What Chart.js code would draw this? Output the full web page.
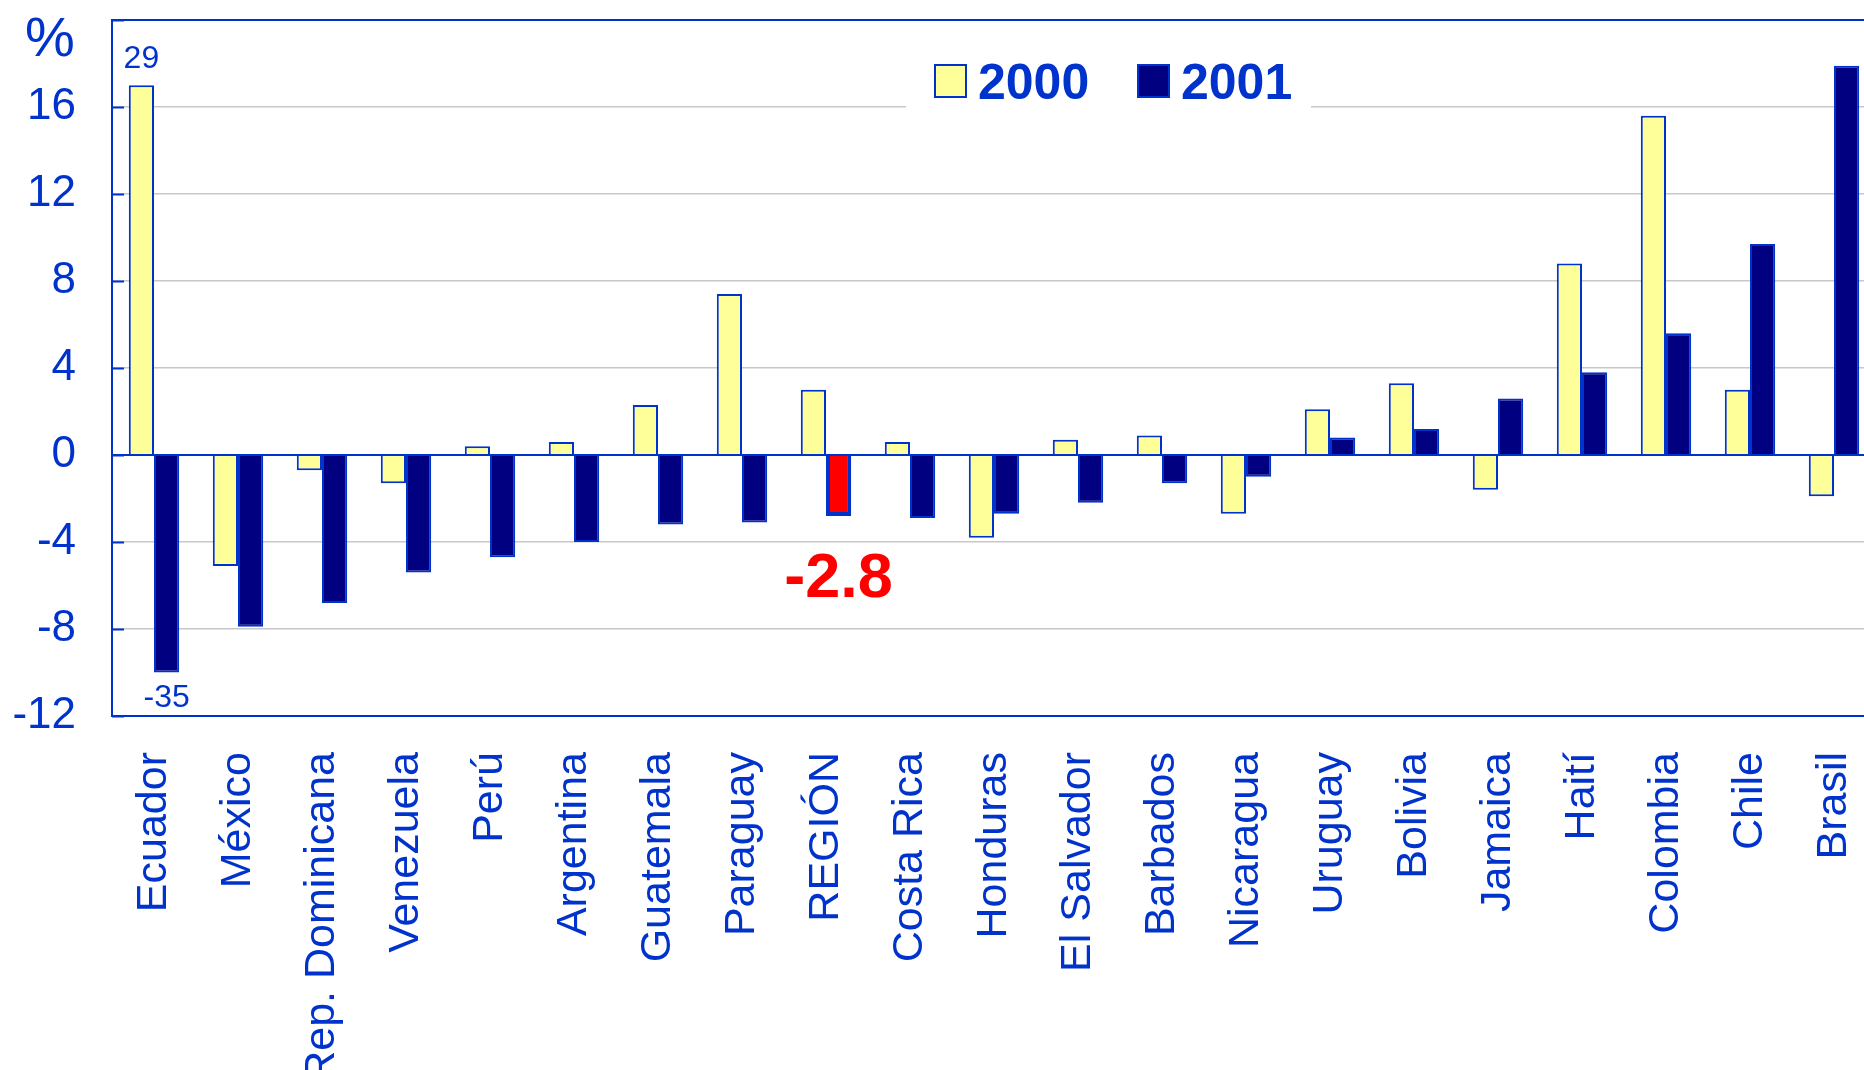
<!DOCTYPE html>
<html>
<head>
<meta charset="utf-8">
<script src="https://cdn.jsdelivr.net/npm/chart.js@4.4.1/dist/chart.umd.min.js"></script>
<style>
  html, body { margin: 0; padding: 0; background: #fff; overflow: hidden; }
  #grafico { display: block; }
</style>
</head>
<body>
<canvas id="grafico" width="1876" height="1070"></canvas>
<script>
// paises ordenados como en la lamina
var paises = ['Ecuador', 'México', 'Rep. Dominicana', 'Venezuela', 'Perú', 'Argentina', 'Guatemala',
  'Paraguay', 'REGIÓN', 'Costa Rica', 'Honduras', 'El Salvador', 'Barbados', 'Nicaragua',
  'Uruguay', 'Bolivia', 'Jamaica', 'Haití', 'Colombia', 'Chile', 'Brasil'];
var datos2000 = [29, -5.1, -0.7, -1.3, 0.4, 0.6, 2.3, 7.4, 3.0, 0.6, -3.8, 0.7, 0.9, -2.7, 2.1, 3.3, -1.6, 8.8, 15.6, 3.0, -1.9];
var datos2001 = [-35, -7.9, -6.8, -5.4, -4.7, -4.0, -3.2, -3.1, -2.8, -2.9, -2.7, -2.2, -1.3, -1.0, 0.8, 1.2, 2.6, 3.8, 5.6, 9.7, 17.9];
var series = ['2000', '2001'];
var yMin = -12, yMax = 20, yPaso = 2;
// valores fuera del eje se dibujan cortados hasta aqui
var corteArriba = 17, corteAbajo = -10;

var azul = '#0033CC';
var marino = '#000080';
var amarillo = '#FFFF99';
var fuente = "'Liberation Sans', Arial, sans-serif";

function cortar(v) {
  if (v > yMax) return corteArriba;
  if (v < yMin) return corteAbajo;
  return v;
}

var idxRegion = paises.indexOf('REGIÓN');
var fondo2001 = paises.map(function (p, i) { return i === idxRegion ? '#FF0000' : marino; });
var borde2001 = paises.map(function (p, i) { return i === idxRegion ? 4 : 2; });

/* dibuja %, marcas hacia adentro, leyenda y rotulos */
var extras = {
  id: 'extras',
  afterDatasetsDraw: function (chart) {
    var ctx = chart.ctx;
    var area = chart.chartArea;
    var y = chart.scales.y;
    ctx.save();

    // marcas del eje y hacia dentro
    ctx.strokeStyle = azul;
    ctx.lineWidth = 2;
    y.ticks.forEach(function (t) {
      var py = Math.round(y.getPixelForValue(t.value)) + 0.5;
      ctx.beginPath();
      ctx.moveTo(area.left, py);
      ctx.lineTo(area.left + 12, py);
      ctx.stroke();
    });

    // %
    ctx.fillStyle = azul;
    ctx.font = '56px ' + fuente;
    ctx.textAlign = 'left';
    ctx.textBaseline = 'alphabetic';
    ctx.fillText('%', 25, 56);

    // leyenda con fondo blanco
    ctx.fillStyle = '#fff';
    ctx.fillRect(906, 40, 405, 72);
    var colores = [amarillo, marino];
    var xs = [935, 1138];
    for (var i = 0; i < series.length; i++) {
      ctx.fillStyle = colores[i];
      ctx.fillRect(xs[i], 65, 31, 32);
      ctx.strokeStyle = azul;
      ctx.lineWidth = 2;
      ctx.strokeRect(xs[i], 65, 31, 32);
      ctx.fillStyle = azul;
      ctx.font = 'bold 50px ' + fuente;
      ctx.fillText(series[i], xs[i] + 43, 99);
    }

    // valores de barras cortadas
    var m0 = chart.getDatasetMeta(0).data;
    var m1 = chart.getDatasetMeta(1).data;
    ctx.fillStyle = azul;
    ctx.font = '32px ' + fuente;
    ctx.textAlign = 'center';
    function rotular(lista, meta) {
      lista.forEach(function (v, i) {
        if (v !== cortar(v)) {
          if (v > 0) {
            ctx.textBaseline = 'alphabetic';
            ctx.fillText(String(v), meta[i].x, meta[i].y - 17);
          } else {
            ctx.textBaseline = 'top';
            ctx.fillText(String(v), meta[i].x, meta[i].y + 10);
          }
        }
      });
    }
    rotular(datos2000, m0);
    rotular(datos2001, m1);

    // valor de la region
    var r = m1[idxRegion];
    ctx.fillStyle = '#FF0000';
    ctx.font = 'bold 63px ' + fuente;
    ctx.textBaseline = 'top';
    ctx.fillText(datos2001[idxRegion].toFixed(1), r.x, r.y + 32);
    ctx.restore();
  }
};

var ctxg = document.getElementById('grafico');
var grafico = new Chart(ctxg, {
  type: 'bar',
  data: {
    labels: paises,
    datasets: [
      {
        label: series[0],
        data: datos2000.map(cortar),
        backgroundColor: amarillo,
        borderColor: azul,
        borderWidth: 2
      },
      {
        label: series[1],
        data: datos2001.map(cortar),
        backgroundColor: fondo2001,
        borderColor: azul,
        borderWidth: borde2001
      }
    ]
  },
  options: {
    responsive: false,
    animation: false,
    devicePixelRatio: 1,
    layout: { padding: { top: 20, right: 0, left: 0, bottom: 0 } },
    plugins: {
      legend: { display: false },
      tooltip: { enabled: false }
    },
    datasets: {
      bar: { categoryPercentage: 0.6, barPercentage: 1.0 }
    },
    scales: {
      x: {
        grid: { display: false, drawTicks: false },
        border: { display: true, color: azul, width: 2 },
        ticks: {
          autoSkip: false,
          minRotation: 90,
          maxRotation: 90,
          padding: 36,
          color: azul,
          font: { family: fuente, size: 43 }
        },
        afterFit: function (scale) {
          scale.height = 354;
          scale.paddingLeft = 0;
          scale.paddingRight = 0;
        }
      },
      y: {
        min: yMin,
        max: yMax,
        ticks: {
          stepSize: yPaso,
          padding: 36,
          color: azul,
          font: { family: fuente, size: 44 },
          callback: function (v) {
            return (v % 4 === 0 && v !== yMax) ? String(v) : '';
          }
        },
        grid: {
          drawTicks: false,
          color: function (c) {
            var v = c.tick.value;
            if (v === 0 || v === yMax) return azul;
            if (v % 4 === 0 && v !== yMin) return '#C8C8C8';
            return 'rgba(0,0,0,0)';
          },
          lineWidth: function (c) {
            var v = c.tick.value;
            return (v === 0 || v === yMax) ? 2 : 1.5;
          }
        },
        border: { display: true, color: azul, width: 2 },
        afterFit: function (scale) {
          scale.width = 112;
          scale.paddingTop = 0;
          scale.paddingBottom = 0;
        }
      }
    }
  },
  plugins: [extras]
});
</script>
</body>
</html>
